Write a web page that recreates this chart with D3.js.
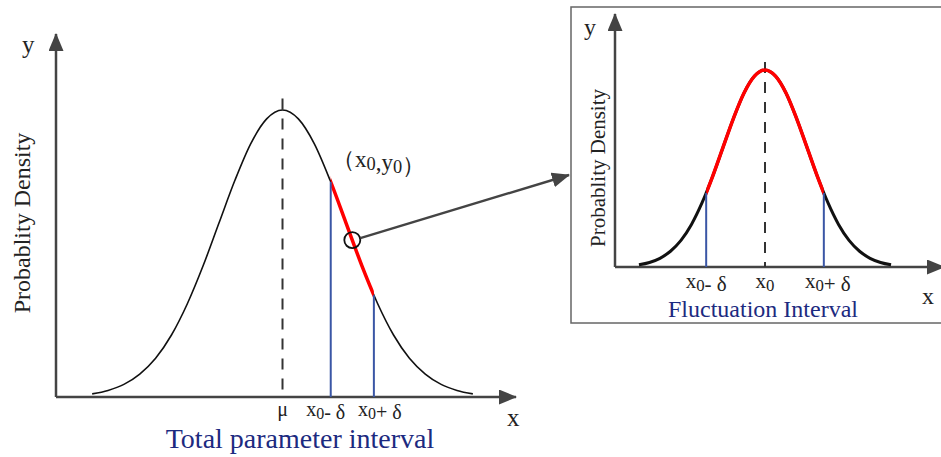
<!DOCTYPE html>
<html>
<head>
<meta charset="utf-8">
<script src="https://cdn.jsdelivr.net/npm/d3@7"></script>
<style>
  body { margin: 0; background: #fff; }
  text { font-family: "Liberation Serif", "Times New Roman", serif; fill: #222; }
</style>
</head>
<body>
<script>
// normal curve (x in sigma units, y relative to the peak)
var curveX = [-3, -2.75, -2.5, -2.25, -2, -1.75, -1.5, -1.25, -1, -0.75, -0.5, -0.25, 0,
              0.25, 0.5, 0.75, 1, 1.25, 1.5, 1.75, 2, 2.25, 2.5, 2.75, 3];
var curveY = [0.011, 0.023, 0.044, 0.080, 0.135, 0.216, 0.325, 0.458, 0.607, 0.755, 0.883, 0.969, 1,
              0.969, 0.883, 0.755, 0.607, 0.458, 0.325, 0.216, 0.135, 0.080, 0.044, 0.023, 0.011];

// left chart: point of interest and its interval
var leftX0 = 1.1, leftDelta = 0.34;
var leftTicks = [{v: 0, label: "μ"}, {v: leftX0 - leftDelta, label: "x0- δ"}, {v: leftX0 + leftDelta, label: "x0+ δ"}];

// inset: zoomed fluctuation interval
var rightX0 = 0, rightDelta = 1.4;
var rightTicks = [{v: rightX0 - rightDelta, label: "x0- δ"}, {v: rightX0, label: "x0"}, {v: rightX0 + rightDelta, label: "x0+ δ"}];

var width = 941, height = 457;
var axisColor = "#444";
var blue = "#3a56a5";
var navy = "#1c2a80";

var pts = curveX.map(function(x, i) { return [x, curveY[i]]; });

var svg = d3.select("body").append("svg")
  .attr("width", width)
  .attr("height", height);

var defs = svg.append("defs");
defs.append("marker")
  .attr("id", "arrow")
  .attr("markerUnits", "userSpaceOnUse")
  .attr("markerWidth", 19).attr("markerHeight", 15)
  .attr("refX", 17).attr("refY", 7.5)
  .attr("orient", "auto")
  .append("path")
  .attr("d", "M0,0 L18,7.5 L0,15 Z")
  .attr("fill", axisColor);

// label with subscript zeros
function subText(sel, label) {
  var parts = label.split("0");
  parts.forEach(function(p, i) {
    if (p.length) sel.append("tspan").text(p);
    if (i < parts.length - 1) {
      sel.append("tspan").attr("font-size", "0.8em").attr("dy", 3).text("0");
      sel.append("tspan").attr("dy", -3).text("");
    }
  });
}

// find y of a drawn path at a given pixel x
function yAtX(node, px) {
  var lo = 0, hi = node.getTotalLength();
  for (var k = 0; k < 40; k++) {
    var mid = (lo + hi) / 2;
    if (node.getPointAtLength(mid).x < px) lo = mid; else hi = mid;
  }
  return node.getPointAtLength((lo + hi) / 2).y;
}

function drawChart(g, o) {
  var x = d3.scaleLinear().domain(o.xDomain).range(o.xRange);
  var y = d3.scaleLinear().domain([0, 1]).range(o.yRange);
  var line = d3.line()
    .x(function(d) { return x(d[0]); })
    .y(function(d) { return y(d[1]); })
    .curve(d3.curveMonotoneX);

  // axes
  g.append("line")
    .attr("x1", x(o.xDomain[0])).attr("y1", y(0))
    .attr("x2", x(o.xDomain[0])).attr("y2", o.yTop)
    .attr("stroke", axisColor).attr("stroke-width", 2.5)
    .attr("marker-end", "url(#arrow)");
  g.append("line")
    .attr("x1", x(o.xDomain[0])).attr("y1", y(0))
    .attr("x2", x(o.xDomain[1])).attr("y2", y(0))
    .attr("stroke", axisColor).attr("stroke-width", 2.5)
    .attr("marker-end", "url(#arrow)");

  // dashed centre line
  g.append("line")
    .attr("x1", x(0)).attr("x2", x(0))
    .attr("y1", y(1.04)).attr("y2", y(0))
    .attr("stroke", "#333").attr("stroke-width", 2)
    .attr("stroke-dasharray", "11,9");

  var curve = g.append("path")
    .attr("d", line(pts))
    .attr("fill", "none")
    .attr("stroke", "#111")
    .attr("stroke-width", o.curveWidth);

  var a = x(o.x0 - o.delta), b = x(o.x0 + o.delta);
  var clipId = "clip" + o.name;
  defs.append("clipPath").attr("id", clipId)
    .append("rect")
    .attr("x", a).attr("y", 0)
    .attr("width", b - a).attr("height", height);
  g.append("path")
    .attr("d", line(pts))
    .attr("fill", "none")
    .attr("stroke", "#f00")
    .attr("stroke-width", 3.5)
    .attr("clip-path", "url(#" + clipId + ")");

  [a, b].forEach(function(px) {
    g.append("line")
      .attr("x1", px).attr("x2", px)
      .attr("y1", yAtX(curve.node(), px)).attr("y2", y(0))
      .attr("stroke", blue).attr("stroke-width", 2);
  });

  g.selectAll(".tick")
    .data(o.ticks)
    .enter()
    .append("text")
    .attr("x", function(d, i) { return x(d.v) + o.tickShift[i]; })
    .attr("y", y(0) + o.tickDy)
    .attr("text-anchor", "middle")
    .attr("font-size", o.tickSize)
    .each(function(d) { subText(d3.select(this), d.label); });

  return {x: x, y: y, curve: curve};
}

// left chart
var left = svg.append("g");
var L = drawChart(left, {
  name: "L",
  xDomain: [-3.57, 3.68], xRange: [56, 516],
  yRange: [397, 110], yTop: 34,
  curveWidth: 1.6,
  x0: leftX0, delta: leftDelta,
  ticks: leftTicks, tickShift: [0, -5, 6], tickDy: 19, tickSize: 20
});

left.append("text").attr("x", 22).attr("y", 53).attr("font-size", 25).text("y");
left.append("text").attr("x", 507).attr("y", 426).attr("font-size", 25).text("x");
left.append("text")
  .attr("transform", "translate(30,223) rotate(-90)")
  .attr("text-anchor", "middle")
  .attr("font-size", 24)
  .text("Probablity Density");
left.append("text")
  .attr("x", 300).attr("y", 448)
  .attr("text-anchor", "middle")
  .attr("font-size", 28)
  .style("fill", navy)
  .text("Total parameter interval");
var xy = left.append("text")
  .attr("x", 332).attr("y", 167)
  .attr("font-size", 23);
subText(xy, "（x0,y0）");

// circle on the curve and pointer to the inset
var cx = L.x(leftX0), cy = yAtX(L.curve.node(), cx);
left.append("circle")
  .attr("cx", cx).attr("cy", cy).attr("r", 8)
  .attr("fill", "none").attr("stroke", "#111").attr("stroke-width", 1.8);
left.append("line")
  .attr("x1", cx + 8).attr("y1", cy - 2)
  .attr("x2", 569).attr("y2", 175)
  .attr("stroke", axisColor).attr("stroke-width", 2.4)
  .attr("marker-end", "url(#arrow)");

// inset chart
var right = svg.append("g");
right.append("rect")
  .attr("x", 571).attr("y", 7)
  .attr("width", 390).attr("height", 316)
  .attr("fill", "#fff")
  .attr("stroke", "#666").attr("stroke-width", 1.5);
drawChart(right, {
  name: "R",
  xDomain: [-3.57, 4.26], xRange: [615, 944],
  yRange: [267, 70], yTop: 14,
  curveWidth: 3,
  x0: rightX0, delta: rightDelta,
  ticks: rightTicks, tickShift: [0, 0, 4], tickDy: 21, tickSize: 21
});
right.append("text").attr("x", 584).attr("y", 35).attr("font-size", 24).text("y");
right.append("text").attr("x", 922).attr("y", 304).attr("font-size", 24).text("x");
right.append("text")
  .attr("transform", "translate(605,168) rotate(-90)")
  .attr("text-anchor", "middle")
  .attr("font-size", 21)
  .text("Probablity Density");
right.append("text")
  .attr("x", 763).attr("y", 317)
  .attr("text-anchor", "middle")
  .attr("font-size", 24)
  .style("fill", navy)
  .text("Fluctuation Interval");
</script>
</body>
</html>
